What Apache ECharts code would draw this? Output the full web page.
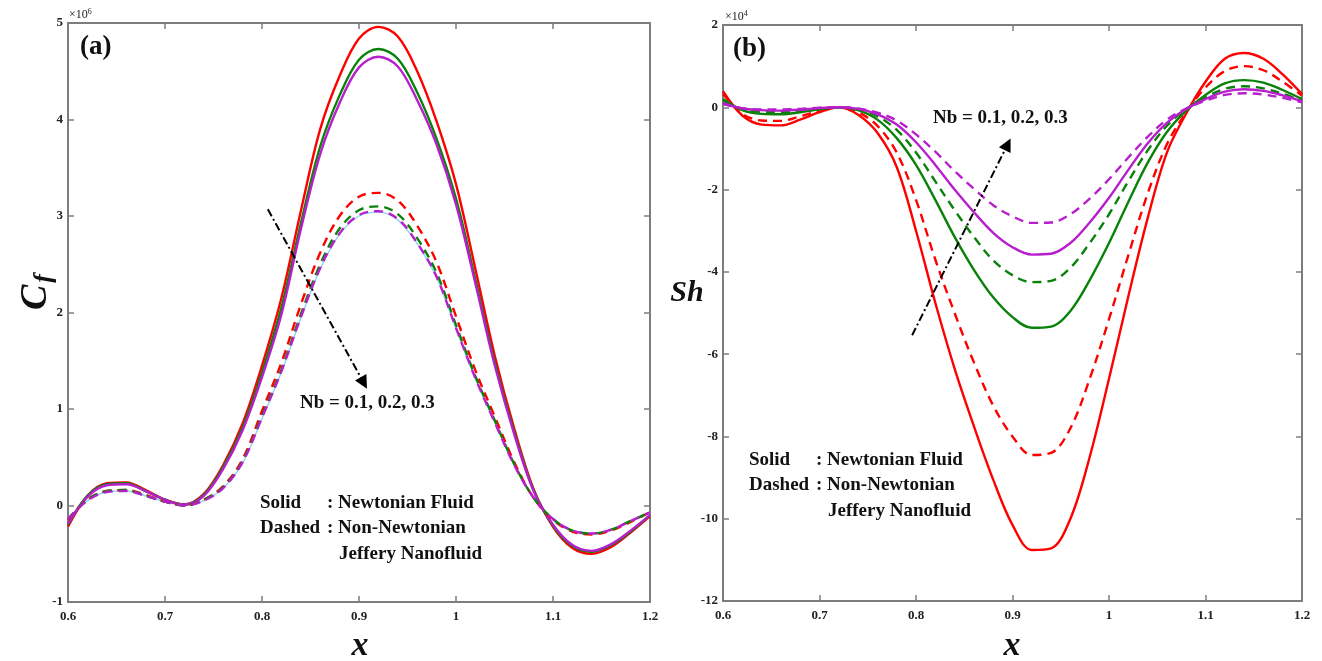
<!DOCTYPE html>
<html>
<head>
<meta charset="utf-8">
<script src="https://cdn.jsdelivr.net/npm/echarts@6/dist/echarts.min.js"></script>
<style>
  html, body { margin: 0; padding: 0; background: #ffffff; }
  #chart { width: 1322px; height: 661px; }
</style>
</head>
<body>
<div id="chart"></div>
<script>
// Axial positions shared by every curve
const xs = [0.60, 0.62, 0.64, 0.66, 0.68, 0.70, 0.72, 0.74, 0.76, 0.78,
            0.80, 0.82, 0.84, 0.86, 0.88, 0.90, 0.92, 0.94, 0.96, 0.98,
            1.00, 1.02, 1.04, 1.06, 1.08, 1.10, 1.12, 1.14, 1.16, 1.18, 1.20];

// (a) skin friction C_f (x 10^6) for Nb = 0.1, 0.2, 0.3
const cfNewtonianNb1 = [-0.22, 0.10, 0.23, 0.24, 0.16, 0.06, 0.01, 0.12, 0.42, 0.85,
                        1.45, 2.15, 3.05, 3.90, 4.45, 4.84, 4.96, 4.86, 4.50, 3.98,
                        3.33, 2.45, 1.55, 0.80, 0.17, -0.22, -0.44, -0.50, -0.43, -0.28, -0.11];
const cfNewtonianNb2 = [-0.20, 0.10, 0.22, 0.23, 0.15, 0.06, 0.01, 0.11, 0.40, 0.81,
                        1.38, 2.05, 2.92, 3.72, 4.25, 4.62, 4.73, 4.63, 4.28, 3.80,
                        3.18, 2.34, 1.48, 0.76, 0.16, -0.21, -0.42, -0.48, -0.41, -0.27, -0.10];
const cfNewtonianNb3 = [-0.19, 0.09, 0.21, 0.22, 0.15, 0.06, 0.01, 0.10, 0.38, 0.78,
                        1.33, 1.98, 2.86, 3.64, 4.17, 4.54, 4.65, 4.55, 4.20, 3.74,
                        3.12, 2.30, 1.45, 0.74, 0.15, -0.20, -0.41, -0.47, -0.40, -0.26, -0.10];
const cfJefferyNb1 = [-0.15, 0.06, 0.15, 0.16, 0.11, 0.04, 0.00, 0.06, 0.20, 0.48,
                      0.98, 1.48, 2.08, 2.62, 3.00, 3.20, 3.24, 3.16, 2.90, 2.52,
                      1.96, 1.40, 0.92, 0.45, 0.08, -0.15, -0.27, -0.30, -0.26, -0.17, -0.07];
const cfJefferyNb2 = [-0.14, 0.06, 0.15, 0.16, 0.10, 0.04, 0.00, 0.06, 0.19, 0.46,
                      0.93, 1.41, 1.98, 2.50, 2.87, 3.06, 3.10, 3.02, 2.77, 2.41,
                      1.87, 1.34, 0.88, 0.43, 0.08, -0.14, -0.26, -0.29, -0.25, -0.16, -0.07];
const cfJefferyNb3 = [-0.14, 0.05, 0.14, 0.15, 0.10, 0.04, 0.00, 0.05, 0.18, 0.45,
                      0.91, 1.39, 1.95, 2.46, 2.82, 3.01, 3.05, 2.97, 2.72, 2.37,
                      1.84, 1.32, 0.86, 0.42, 0.08, -0.14, -0.26, -0.29, -0.25, -0.16, -0.07];
const cfJefferyRef = [-0.15, 0.05, 0.14, 0.15, 0.10, 0.04, 0.00, 0.05, 0.18, 0.44,
                      0.90, 1.38, 1.94, 2.45, 2.81, 3.00, 3.04, 2.96, 2.71, 2.36,
                      1.83, 1.31, 0.86, 0.42, 0.08, -0.14, -0.26, -0.29, -0.25, -0.16, -0.07];

// (b) Sherwood number Sh (x 10^4) for Nb = 0.1, 0.2, 0.3
const shNewtonianNb1 = [0.39, -0.20, -0.42, -0.44, -0.30, -0.12, 0.00, -0.18, -0.62, -1.45,
                        -3.00, -4.75, -6.35, -7.75, -9.05, -10.15, -10.76, -10.72, -10.00, -8.50,
                        -6.60, -4.60, -2.70, -1.10, -0.15, 0.62, 1.18, 1.32, 1.18, 0.80, 0.32];
const shJefferyNb1 = [0.33, -0.16, -0.32, -0.33, -0.22, -0.09, 0.00, -0.12, -0.45, -1.10,
                      -2.25, -3.70, -5.00, -6.20, -7.25, -8.00, -8.45, -8.40, -7.80, -6.60,
                      -5.15, -3.60, -2.10, -0.90, -0.12, 0.48, 0.88, 1.00, 0.90, 0.62, 0.28];
const shNewtonianNb2 = [0.20, -0.07, -0.16, -0.17, -0.12, -0.05, 0.00, -0.07, -0.30, -0.75,
                        -1.40, -2.25, -3.15, -3.95, -4.62, -5.10, -5.36, -5.33, -4.95, -4.20,
                        -3.30, -2.30, -1.35, -0.60, -0.08, 0.30, 0.58, 0.66, 0.60, 0.42, 0.20];
const shJefferyNb2 = [0.16, -0.05, -0.11, -0.12, -0.09, -0.04, 0.00, -0.05, -0.22, -0.55,
                      -1.10, -1.80, -2.50, -3.15, -3.72, -4.08, -4.25, -4.22, -3.90, -3.30,
                      -2.60, -1.80, -1.05, -0.45, -0.05, 0.24, 0.45, 0.51, 0.46, 0.33, 0.16];
const shNewtonianNb3 = [0.10, -0.03, -0.07, -0.08, -0.06, -0.02, 0.00, -0.04, -0.17, -0.42,
                        -0.85, -1.40, -2.00, -2.55, -3.05, -3.40, -3.58, -3.56, -3.30, -2.80,
                        -2.20, -1.52, -0.88, -0.38, -0.04, 0.20, 0.38, 0.44, 0.40, 0.29, 0.15];
const shJefferyNb3 = [0.08, -0.02, -0.05, -0.05, -0.04, -0.01, 0.00, -0.03, -0.13, -0.32,
                      -0.66, -1.08, -1.55, -1.98, -2.38, -2.65, -2.81, -2.80, -2.60, -2.22,
                      -1.75, -1.22, -0.72, -0.30, -0.03, 0.16, 0.30, 0.34, 0.31, 0.23, 0.12];

// Axis ranges and tick steps
const xRange = [0.6, 1.2, 0.1];
const cfRange = [-1, 5, 1];
const shRange = [-12, 2, 2];

// Trend arrows (start, end) in data units
const arrowCf = [[0.806, 3.07], [0.905, 1.27]];
const arrowSh = [[0.796, -5.54], [0.895, -0.90]];

const SERIF = '"Liberation Serif", "Times New Roman", serif';
const COL = { red: '#ff0000', green: '#0a820a', purple: '#b81fcc', sky: '#8fd3f0' };
const AXIS_GREY = '#7d7d7d';

function pts(ys) { return xs.map((x, i) => [x, ys[i]]); }

function curve(ys, color, dashed, axisIdx, width) {
  return {
    type: 'line',
    xAxisIndex: axisIdx, yAxisIndex: axisIdx,
    data: pts(ys),
    smooth: 0.35,
    symbol: 'none',
    silent: true,
    animation: false,
    lineStyle: { color: color, width: width || 2.4, type: dashed ? [9, 6] : 'solid' }
  };
}

function arrow(seg) {
  return {
    silent: true,
    animation: false,
    symbol: ['none', 'triangle'],
    symbolSize: 13,
    label: { show: false },
    lineStyle: { color: '#000000', width: 2, type: [8, 3, 2, 3] },
    itemStyle: { color: '#000000' },
    emphasis: { disabled: true },
    data: [[{ coord: seg[0] }, { coord: seg[1] }]]
  };
}

const tickLabel = { fontFamily: SERIF, fontWeight: 'bold', fontSize: 13, color: '#222222' };
const lineCfg = { show: true, onZero: false, lineStyle: { color: AXIS_GREY, width: 2 } };
const tickCfg = { show: true, inside: true, length: 6, lineStyle: { color: AXIS_GREY, width: 1.5 } };

function xAx(grid, pos, labels) {
  return {
    type: 'value', gridIndex: grid, position: pos,
    min: xRange[0], max: xRange[1], interval: xRange[2],
    axisLine: lineCfg, axisTick: tickCfg, splitLine: { show: false },
    axisLabel: Object.assign({ show: labels, margin: 8,
      formatter: v => String(Math.round(v * 10) / 10) }, tickLabel)
  };
}
function yAx(grid, pos, r, labels) {
  return {
    type: 'value', gridIndex: grid, position: pos,
    min: r[0], max: r[1], interval: r[2],
    axisLine: lineCfg, axisTick: tickCfg, splitLine: { show: false },
    axisLabel: Object.assign({ show: labels, margin: 5,
      formatter: v => String(Math.round(v)) }, tickLabel)
  };
}

function txt(x, y, s, size, extra) {
  return {
    type: 'text', x: x, y: y, silent: true,
    style: Object.assign({ text: s, fill: '#111111',
      font: 'bold ' + size + 'px ' + SERIF, align: 'left', verticalAlign: 'middle' }, extra || {})
  };
}

function legendBlock(x, y) {
  return [
    txt(x, y, 'Solid', 19),
    txt(x + 67, y, ': Newtonian Fluid', 19),
    txt(x, y + 25.5, 'Dashed', 19),
    txt(x + 67, y + 25.5, ': Non-Newtonian', 19),
    txt(x + 79, y + 51, 'Jeffery Nanofluid', 19)
  ];
}

function scaleTag(x, y, p) {
  return {
    type: 'text', x: x, y: y, silent: true,
    style: {
      text: '{m|\u00d710}{p|' + p + '}',
      align: 'left', verticalAlign: 'middle',
      rich: {
        m: { fontFamily: SERIF, fontSize: 12, fill: '#222222', color: '#222222' },
        p: { fontFamily: SERIF, fontSize: 8, fill: '#222222', color: '#222222', padding: [0, 0, 7, 0] }
      }
    }
  };
}

const chart = echarts.init(document.getElementById('chart'), null, { renderer: 'canvas' });

const cfSeries = [
  curve(cfJefferyRef, COL.sky, false, 0, 1.4),
  curve(cfNewtonianNb1, COL.red, false, 0),
  curve(cfNewtonianNb2, COL.green, false, 0),
  curve(cfNewtonianNb3, COL.purple, false, 0),
  curve(cfJefferyNb1, COL.red, true, 0),
  curve(cfJefferyNb2, COL.green, true, 0),
  curve(cfJefferyNb3, COL.purple, true, 0)
];
cfSeries[1].markLine = arrow(arrowCf);

const shSeries = [
  curve(shNewtonianNb1, COL.red, false, 2),
  curve(shJefferyNb1, COL.red, true, 2),
  curve(shNewtonianNb2, COL.green, false, 2),
  curve(shJefferyNb2, COL.green, true, 2),
  curve(shNewtonianNb3, COL.purple, false, 2),
  curve(shJefferyNb3, COL.purple, true, 2)
];
shSeries[0].markLine = arrow(arrowSh);

chart.setOption({
  animation: false,
  backgroundColor: '#ffffff',
  grid: [
    { left: 68, top: 23, width: 582, height: 579, containLabel: false },
    { left: 723, top: 25, width: 579, height: 576, containLabel: false }
  ],
  xAxis: [xAx(0, 'bottom', true), xAx(0, 'top', false), xAx(1, 'bottom', true), xAx(1, 'top', false)],
  yAxis: [yAx(0, 'left', cfRange, true), yAx(0, 'right', cfRange, false),
          yAx(1, 'left', shRange, true), yAx(1, 'right', shRange, false)],
  series: cfSeries.concat(shSeries),
  graphic: [
    txt(80, 47, '(a)', 27),
    txt(733, 49, '(b)', 27),
    scaleTag(69, 15, '6'),
    scaleTag(725, 17, '4'),
    txt(300, 403, 'Nb = 0.1, 0.2, 0.3', 19),
    txt(933, 118, 'Nb = 0.1, 0.2, 0.3', 19),
    ...legendBlock(260, 503),
    ...legendBlock(749, 460),
    txt(360, 646, 'x', 34, { font: 'italic bold 34px ' + SERIF, align: 'center' }),
    txt(1012, 646, 'x', 34, { font: 'italic bold 34px ' + SERIF, align: 'center' }),
    txt(687, 293, 'Sh', 30, { font: 'italic bold 30px ' + SERIF, align: 'center' }),
    {
      type: 'text', x: 36, y: 292, rotation: Math.PI / 2, silent: true,
      style: {
        text: '{c|C}{f|f}', align: 'center', verticalAlign: 'middle',
        rich: {
          c: { font: 'italic bold 38px ' + SERIF, fill: '#111111', color: '#111111' },
          f: { font: 'italic bold 26px ' + SERIF, fill: '#111111', color: '#111111', padding: [16, 0, 0, 2] }
        }
      }
    }
  ]
});
</script>
</body>
</html>
